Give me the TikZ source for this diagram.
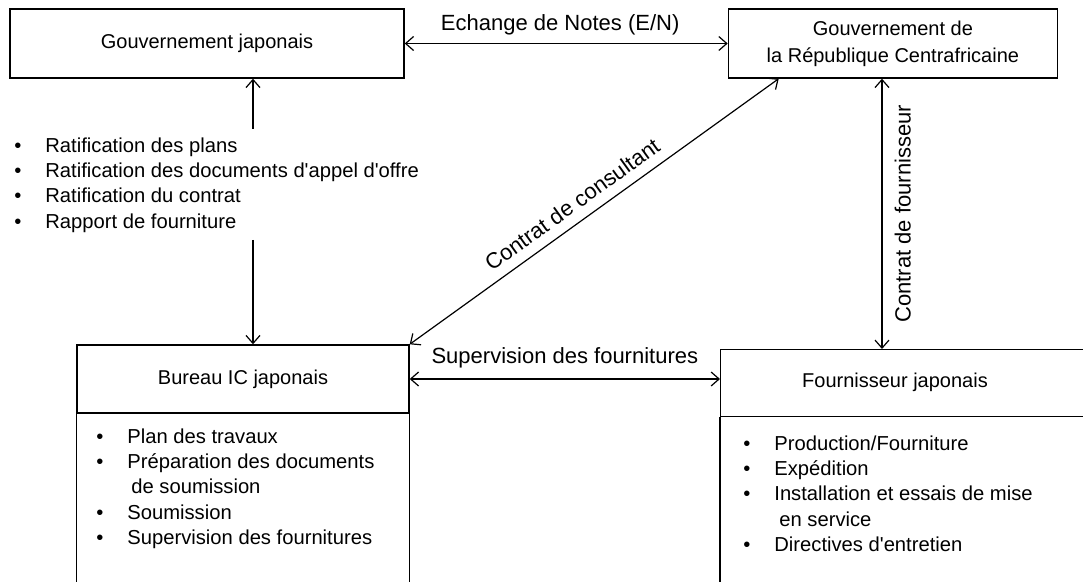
\documentclass[tikz,border=0pt]{standalone}
\usepackage{fontspec}
\setmainfont{Liberation Sans}
\usetikzlibrary{calc,positioning,arrows.meta}

\tikzset{
  >={Straight Barb[length=4pt,width=7pt]},
  box/.style={draw,line width=0.7pt,minimum height=34.5pt,inner sep=2pt,align=center,font=\fontsize{10}{13.5}\selectfont},
  lst/.style={align=left,inner sep=0pt,font=\fontsize{10.1}{12.7}\selectfont},
  lbl/.style={inner sep=1pt,font=\fontsize{11}{13}\selectfont},
  lnk/.style={line width=0.6pt}
}
\newcommand{\itm}[1]{\makebox[15.5pt][l]{\textbullet}#1}
\newcommand{\ap}{\textquotesingle}

\begin{document}
\begin{tikzpicture}[x=0.5pt,y=-0.5pt]
		\useasboundingbox (0,0) rectangle (1083,582);
		\clip (0,0) rectangle (1083,582);
		% the two governments
		\node(gj)  [box,minimum width=197pt] at (207,43.5) {Gouvernement japonais};
		\node(grc) [box,minimum width=164.5pt,right=161.5pt of gj] {Gouvernement de\\la République Centrafricaine};
		% consultant and supplier
		\node(bic) [box,minimum width=166pt,minimum height=34pt] at (243,379) {Bureau IC japonais};
		\node(fj)  [box,minimum width=190pt,minimum height=33.5pt,anchor=north west] at (720,349) {};
		\node(fjt) [box,draw=none] at (895,382) {Fournisseur japonais};
		\draw[line width=0.7pt] (bic.south west) -- ++(0,200)
		      (bic.south east) -- ++(0,200)
		      (fj.south west) -- ++(0,200);
		% lists
		\node(ratif) [lst,anchor=north west] at (14,137) {\itm{Ratification des plans}\\
			\itm{Ratification des documents d\ap appel d\ap offre}\\
			\itm{Ratification du contrat}\\
			\itm{Rapport de fourniture}};
		\node(bicl) [lst,anchor=north west] at (96,428) {\itm{Plan des travaux}\\
			\itm{Préparation des documents}\\
			\hspace*{17.5pt}de soumission\\
			\itm{Soumission}\\
			\itm{Supervision des fournitures}};
		\node(fjl) [lst,anchor=north west] at (743,435) {\itm{Production/Fourniture}\\
			\itm{Expédition}\\
			\itm{Installation et essais de mise}\\
			\hspace*{18pt}en service\\
			\itm{Directives d\ap entretien}};
		% links
		\coordinate (ax) at (253,0);
		\coordinate (fx) at (882,0);
		\coordinate (cs) at ([xshift=25.5pt]grc.south west);
		\draw[lnk,<->] (gj.east) -- (gj.east -| grc.west) node [lbl,midway,above=3pt,xshift=-3pt] {Echange de Notes (E/N)};
		\draw[lnk,->] ($(ax |- ratif.north)+(0,-8)$) -- (ax |- gj.south);
		\draw[lnk,->] ($(ax |- ratif.south)+(0,7)$) -- (ax |- bic.north);
		\draw[lnk,<->] (bic.north east) -- (cs) node [lbl,pos=0.47,sloped,above=4pt] {Contrat de consultant};
		\draw[lnk,<->] (fx |- fj.north) -- (fx |- grc.south) node [lbl,midway,sloped,below=5pt] {Contrat de fournisseur};
		\draw[lnk,<->] (bic.east) -- (bic.east -| fj.west) node [lbl,midway,above=4pt] {Supervision des fournitures};
	\end{tikzpicture}
\end{document}
